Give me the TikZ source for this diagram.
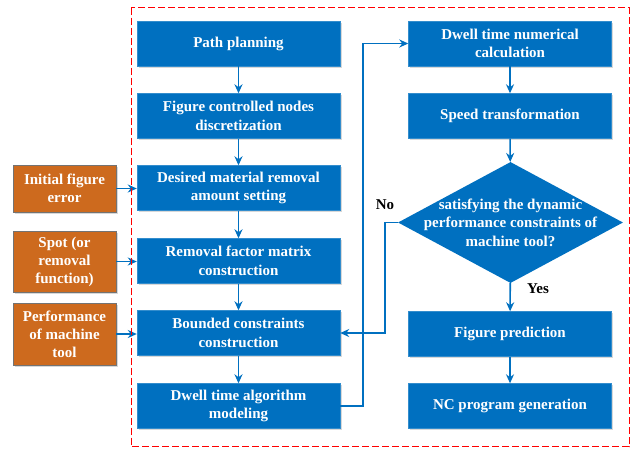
\documentclass[tikz,border=0pt]{standalone}
\usepackage{fontspec}
\setmainfont{Liberation Serif}
\usetikzlibrary{positioning,shapes.geometric,arrows.meta,shadows}

\definecolor{stepblue}{RGB}{0,112,192}
\definecolor{inorange}{RGB}{205,106,30}

\tikzset{
  proc/.style={rectangle, fill=stepblue, draw=stepblue!80!white, text=white,
    font=\bfseries\fontsize{15}{18.5}\selectfont, align=center, inner sep=1pt,
    minimum width=203pt, minimum height=45pt,
    drop shadow={shadow xshift=1.5pt, shadow yshift=-1.5pt, fill=black!30}},
  inbox/.style={rectangle, fill=inorange, draw=black!55, text=white,
    font=\bfseries\fontsize{15}{18}\selectfont, align=center, inner sep=1pt,
    minimum width=103pt, drop shadow={shadow xshift=1.5pt, shadow yshift=-1.5pt, fill=black!30}},
  decide/.style={diamond, fill=stepblue, inner sep=0pt,
    minimum width=225pt, minimum height=121pt},
  flow/.style={draw=stepblue, line width=1.6pt, -{Stealth[length=9pt,width=8pt]}},
  tag/.style={font=\bfseries\fontsize{15}{16}\selectfont}
}

\begin{document}
\begin{tikzpicture}[x=1pt,y=1pt]
\useasboundingbox (0,0) rectangle (631,-448);
% left column
\node[proc] (plan)   at (238.5,-43.5) {Path planning};
\node[proc] (disc)   at (238.5,-116)  {Figure controlled nodes\\discretization};
\node[proc] (remov)  at (238.5,-188)  {Desired material removal\\amount setting};
\node[proc] (factor) at (238.5,-261)  {Removal factor matrix\\construction};
\node[proc] (bound)  at (238.5,-333)  {Bounded constraints\\construction};
\node[proc] (model)  at (238.5,-406)  {Dwell time algorithm\\modeling};
% right column
\node[proc] (calc)  at (510,-43.5) {Dwell time numerical\\calculation};
\node[proc] (speed) at (510,-116)  {Speed transformation};
\node[decide, label={[text=white, font=\bfseries\fontsize{15}{18.5}\selectfont, align=center]center:satisfying the dynamic\\performance constraints of\\machine tool?}] (check) at (510.5,-222.5) {};
\node[proc] (pred) at (510,-334) {Figure prediction};
\node[proc] (nc)   at (510,-406) {NC program generation};
% inputs
\node[inbox, minimum height=47pt] (err)  at (64.5,-188.5) {Initial figure\\error};
\node[inbox, minimum height=61pt] (spot) at (64.5,-261.5) {Spot (or\\removal\\function)};
\node[inbox, minimum height=62pt] (perf) at (64.5,-334)   {Performance\\of machine\\tool};

% flow
\draw[flow] (plan) -- (disc);
\draw[flow] (disc) -- (remov);
\draw[flow] (remov) -- (factor);
\draw[flow] (factor) -- (bound);
\draw[flow] (bound) -- (model);
\draw[flow] (model.east) -- ++(23,0) |- (calc.west);
\draw[flow] (calc) -- (speed);
\draw[flow] (speed) -- (check);
\draw[flow] (check) -- (pred);
\draw[flow] (pred) -- (nc);
\draw[flow] (check.west) -- ++(-13,0) |- (bound.east);
\draw[flow] (err.east) -- (err.east -| remov.west);
\draw[flow] (spot.east) -- (spot.east -| factor.west);
\draw[flow] (perf.east) -- (perf.east -| bound.west);

\node[tag] (no)  at (385,-205) {No};
\node[tag] (yes) at (538,-289) {Yes};

% outline
\draw[red, line width=0.8pt, dash pattern=on 7pt off 3pt] (131,-7.5) rectangle (629,-446.5);
\end{tikzpicture}
\end{document}
